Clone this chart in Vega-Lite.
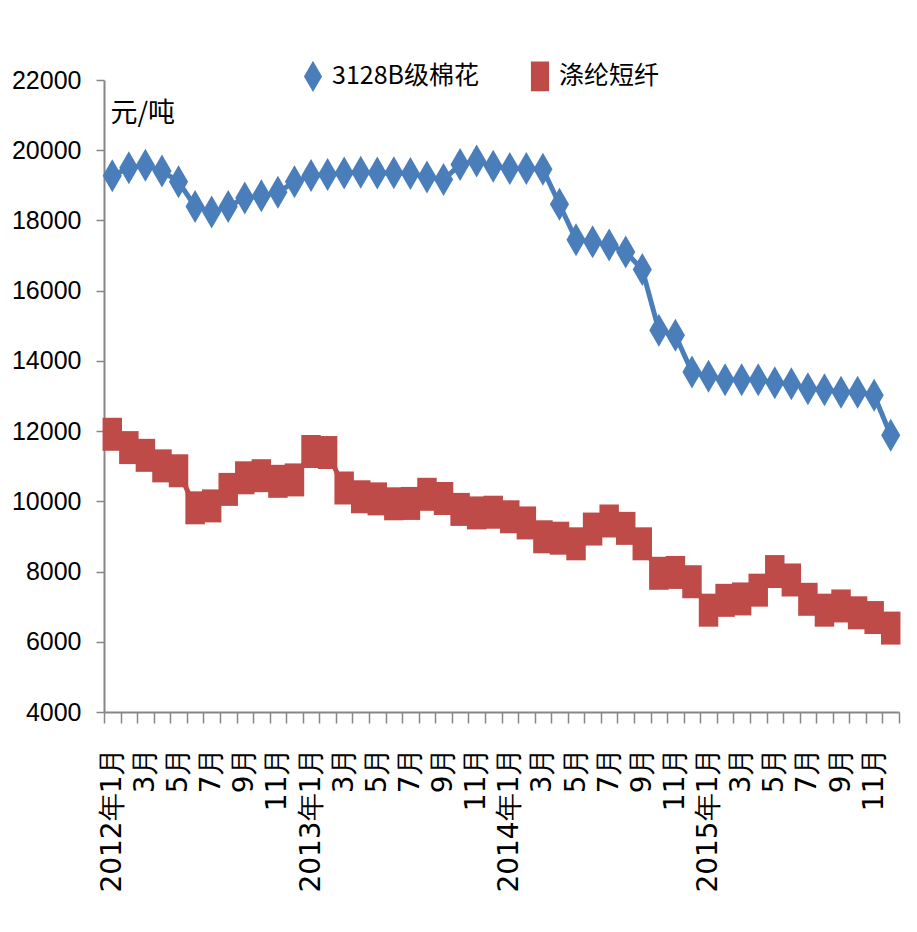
{
  "$schema": "https://vega.github.io/schema/vega-lite/v6.json",
  "width": 795,
  "height": 632,
  "autosize": {"type": "none"},
  "padding": {"left": 104, "top": 80, "right": 18, "bottom": 220},
  "background": "white",
  "config": {"view": {"stroke": null}},
  "data": {"values": [
    {"date":"2012-01","m":"2012年1月","3128B级棉花":19270,"涤纶短纤":11910},
    {"date":"2012-02","m":"\u200b","3128B级棉花":19500,"涤纶短纤":11530},
    {"date":"2012-03","m":"3月","3128B级棉花":19570,"涤纶短纤":11310},
    {"date":"2012-04","m":"\u200b\u200b","3128B级棉花":19410,"涤纶短纤":11010},
    {"date":"2012-05","m":"5月","3128B级棉花":19100,"涤纶短纤":10870},
    {"date":"2012-06","m":"\u200b\u200b\u200b","3128B级棉花":18400,"涤纶短纤":9815},
    {"date":"2012-07","m":"7月","3128B级棉花":18240,"涤纶短纤":9870},
    {"date":"2012-08","m":"\u200b\u200b\u200b\u200b","3128B级棉花":18400,"涤纶短纤":10340},
    {"date":"2012-09","m":"9月","3128B级棉花":18640,"涤纶短纤":10670},
    {"date":"2012-10","m":"\u200b\u200b\u200b\u200b\u200b","3128B级棉花":18700,"涤纶短纤":10730},
    {"date":"2012-11","m":"11月","3128B级棉花":18800,"涤纶短纤":10570},
    {"date":"2012-12","m":"\u200b\u200b\u200b\u200b\u200b\u200b","3128B级棉花":19100,"涤纶短纤":10610},
    {"date":"2013-01","m":"2013年1月","3128B级棉花":19280,"涤纶短纤":11420},
    {"date":"2013-02","m":"\u200b\u200b\u200b\u200b\u200b\u200b\u200b","3128B级棉花":19310,"涤纶短纤":11390},
    {"date":"2013-03","m":"3月\u200b","3128B级棉花":19350,"涤纶短纤":10380},
    {"date":"2013-04","m":"\u200b\u200b\u200b\u200b\u200b\u200b\u200b\u200b","3128B级棉花":19370,"涤纶短纤":10130},
    {"date":"2013-05","m":"5月\u200b","3128B级棉花":19350,"涤纶短纤":10070},
    {"date":"2013-06","m":"\u200b\u200b\u200b\u200b\u200b\u200b\u200b\u200b\u200b","3128B级棉花":19360,"涤纶短纤":9930},
    {"date":"2013-07","m":"7月\u200b","3128B级棉花":19340,"涤纶短纤":9940},
    {"date":"2013-08","m":"\u200b\u200b\u200b\u200b\u200b\u200b\u200b\u200b\u200b\u200b","3128B级棉花":19240,"涤纶短纤":10200},
    {"date":"2013-09","m":"9月\u200b","3128B级棉花":19165,"涤纶短纤":10080},
    {"date":"2013-10","m":"\u200b\u200b\u200b\u200b\u200b\u200b\u200b\u200b\u200b\u200b\u200b","3128B级棉花":19590,"涤纶短纤":9770},
    {"date":"2013-11","m":"11月\u200b","3128B级棉花":19690,"涤纶短纤":9670},
    {"date":"2013-12","m":"\u200b\u200b\u200b\u200b\u200b\u200b\u200b\u200b\u200b\u200b\u200b\u200b","3128B级棉花":19540,"涤纶短纤":9690},
    {"date":"2014-01","m":"2014年1月","3128B级棉花":19480,"涤纶短纤":9560},
    {"date":"2014-02","m":"\u200b\u200b\u200b\u200b\u200b\u200b\u200b\u200b\u200b\u200b\u200b\u200b\u200b","3128B级棉花":19480,"涤纶短纤":9385},
    {"date":"2014-03","m":"3月\u200b\u200b","3128B级棉花":19460,"涤纶短纤":8990},
    {"date":"2014-04","m":"\u200b\u200b\u200b\u200b\u200b\u200b\u200b\u200b\u200b\u200b\u200b\u200b\u200b\u200b","3128B级棉花":18460,"涤纶短纤":8950},
    {"date":"2014-05","m":"5月\u200b\u200b","3128B级棉花":17450,"涤纶短纤":8790},
    {"date":"2014-06","m":"\u200b\u200b\u200b\u200b\u200b\u200b\u200b\u200b\u200b\u200b\u200b\u200b\u200b\u200b\u200b","3128B级棉花":17390,"涤纶短纤":9210},
    {"date":"2014-07","m":"7月\u200b\u200b","3128B级棉花":17300,"涤纶短纤":9440},
    {"date":"2014-08","m":"\u200b\u200b\u200b\u200b\u200b\u200b\u200b\u200b\u200b\u200b\u200b\u200b\u200b\u200b\u200b\u200b","3128B级棉花":17100,"涤纶短纤":9230},
    {"date":"2014-09","m":"9月\u200b\u200b","3128B级棉花":16600,"涤纶短纤":8790},
    {"date":"2014-10","m":"\u200b\u200b\u200b\u200b\u200b\u200b\u200b\u200b\u200b\u200b\u200b\u200b\u200b\u200b\u200b\u200b\u200b","3128B级棉花":14870,"涤纶短纤":7950},
    {"date":"2014-11","m":"11月\u200b\u200b","3128B级棉花":14730,"涤纶短纤":7975},
    {"date":"2014-12","m":"\u200b\u200b\u200b\u200b\u200b\u200b\u200b\u200b\u200b\u200b\u200b\u200b\u200b\u200b\u200b\u200b\u200b\u200b","3128B级棉花":13680,"涤纶短纤":7710},
    {"date":"2015-01","m":"2015年1月","3128B级棉花":13560,"涤纶短纤":6900},
    {"date":"2015-02","m":"\u200b\u200b\u200b\u200b\u200b\u200b\u200b\u200b\u200b\u200b\u200b\u200b\u200b\u200b\u200b\u200b\u200b\u200b\u200b","3128B级棉花":13460,"涤纶短纤":7180},
    {"date":"2015-03","m":"3月\u200b\u200b\u200b","3128B级棉花":13460,"涤纶短纤":7220},
    {"date":"2015-04","m":"\u200b\u200b\u200b\u200b\u200b\u200b\u200b\u200b\u200b\u200b\u200b\u200b\u200b\u200b\u200b\u200b\u200b\u200b\u200b\u200b","3128B级棉花":13460,"涤纶短纤":7470},
    {"date":"2015-05","m":"5月\u200b\u200b\u200b","3128B级棉花":13380,"涤纶短纤":8000},
    {"date":"2015-06","m":"\u200b\u200b\u200b\u200b\u200b\u200b\u200b\u200b\u200b\u200b\u200b\u200b\u200b\u200b\u200b\u200b\u200b\u200b\u200b\u200b\u200b","3128B级棉花":13350,"涤纶短纤":7760},
    {"date":"2015-07","m":"7月\u200b\u200b\u200b","3128B级棉花":13210,"涤纶短纤":7210},
    {"date":"2015-08","m":"\u200b\u200b\u200b\u200b\u200b\u200b\u200b\u200b\u200b\u200b\u200b\u200b\u200b\u200b\u200b\u200b\u200b\u200b\u200b\u200b\u200b\u200b","3128B级棉花":13180,"涤纶短纤":6900},
    {"date":"2015-09","m":"9月\u200b\u200b\u200b","3128B级棉花":13110,"涤纶短纤":7020},
    {"date":"2015-10","m":"\u200b\u200b\u200b\u200b\u200b\u200b\u200b\u200b\u200b\u200b\u200b\u200b\u200b\u200b\u200b\u200b\u200b\u200b\u200b\u200b\u200b\u200b\u200b","3128B级棉花":13110,"涤纶短纤":6825},
    {"date":"2015-11","m":"11月\u200b\u200b\u200b","3128B级棉花":13020,"涤纶短纤":6690},
    {"date":"2015-12","m":"\u200b\u200b\u200b\u200b\u200b\u200b\u200b\u200b\u200b\u200b\u200b\u200b\u200b\u200b\u200b\u200b\u200b\u200b\u200b\u200b\u200b\u200b\u200b\u200b","3128B级棉花":11880,"涤纶短纤":6390}
  ]},
  "transform": [{"fold": ["3128B级棉花", "涤纶短纤"], "as": ["series", "value"]}],
  "encoding": {
    "x": {
      "field": "m", "type": "ordinal", "sort": null,
      "scale": {"type": "band", "paddingInner": 0, "paddingOuter": 0},
      "axis": {
        "title": null, "grid": false, "tickBand": "extent",
        "domainColor": "#868686", "domainWidth": 2,
        "tickColor": "#868686", "tickWidth": 1.5, "tickSize": 11,
        "labelAngle": -90, "labelOverlap": false,
        "labelFont": "DejaVu Sans", "labelFontSize": 28, "labelColor": "#000000",
        "labelPadding": 24
      }
    },
    "y": {
      "field": "value", "type": "quantitative",
      "scale": {"domain": [4000, 22000], "nice": false, "zero": false},
      "axis": {
        "values": [4000,6000,8000,10000,12000,14000,16000,18000,20000,22000],
        "grid": false, "format": "d",
        "domainColor": "#868686", "domainWidth": 2,
        "tickColor": "#868686", "tickWidth": 1.5, "tickSize": 8,
        "labelFont": "Liberation Sans", "labelFontSize": 25, "labelColor": "#000000",
        "labelPadding": 15,
        "title": "元/吨", "titleAngle": 0, "titleX": 6, "titleY": 33,
        "titleAlign": "left", "titleBaseline": "middle",
        "titleFont": "Noto Sans CJK SC", "titleFontSize": 27, "titleFontWeight": "normal", "titleColor": "#000000"
      }
    },
    "color": {
      "field": "series", "type": "nominal",
      "scale": {"domain": ["3128B级棉花", "涤纶短纤"], "range": ["#4A7EBB", "#BE4B48"]},
      "legend": {
        "title": null, "orient": "none", "direction": "horizontal",
        "legendX": 194, "legendY": -19,
        "labelFont": "Noto Sans CJK SC", "labelFontSize": 25, "labelColor": "#000000",
        "labelOffset": 4, "columnPadding": 46, "symbolSize": 800
      }
    }
  },
  "layer": [
    {"mark": {"type": "line", "strokeWidth": 5}, "encoding": {"order": {"field": "date", "type": "ordinal"}}},
    {
      "mark": {"type": "point", "filled": true, "size": 1089, "opacity": 1},
      "encoding": {
        "shape": {
          "field": "series", "type": "nominal",
          "scale": {"domain": ["3128B级棉花", "涤纶短纤"], "range": ["M0,-1L0.58,0L0,1L-0.58,0Z", "M-0.59,-1L0.59,-1L0.59,1L-0.59,1Z"]}
        }
      }
    }
  ]
}
